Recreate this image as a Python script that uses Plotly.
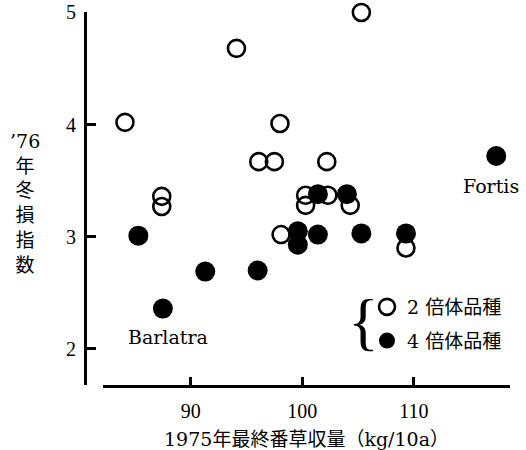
import plotly.graph_objects as go

# 2倍体品種 (open circles)
dip_x = [84.1, 87.4, 87.4, 94.1, 96.1, 97.5, 98.0, 98.1, 100.3, 100.3, 102.2, 102.3, 104.3, 105.3, 109.3]
dip_y = [4.02, 3.36, 3.27, 4.68, 3.67, 3.67, 4.01, 3.02, 3.37, 3.28, 3.67, 3.37, 3.28, 5.00, 2.90]

# 4倍体品種 (filled circles)
tet_x = [85.3, 87.5, 91.3, 96.0, 99.6, 99.6, 101.4, 101.4, 104.0, 105.3, 109.3, 117.4]
tet_y = [3.01, 2.36, 2.69, 2.70, 3.05, 2.93, 3.38, 3.02, 3.38, 3.03, 3.03, 3.72]

# labelled varieties: (name, index into tet arrays)
labels = [("Barlatra", 1, 5, -28), ("Fortis", 11, -5, -30)]

x_ticks = [90, 100, 110]
y_ticks = [2, 3, 4, 5]

SERIF = "DejaVu Serif, Noto Sans CJK JP"
TICKF = "Liberation Serif, Noto Sans CJK JP"

PH = 373  # plot height in px

fig = go.Figure()
fig.add_trace(go.Scatter(
    x=dip_x, y=dip_y, mode="markers", name="2 倍体品種", legendgroup="a",
    marker=dict(symbol="circle-open", size=17, color="black", line=dict(width=2.6, color="black")),
    cliponaxis=False,
))
fig.add_trace(go.Scatter(
    x=tet_x, y=tet_y, mode="markers", name="4 倍体品種", legendgroup="b",
    marker=dict(symbol="circle", size=20, color="black", line=dict(width=0)),
    cliponaxis=False,
))

annotations = []
for name, i, dx, dy in labels:
    annotations.append(dict(
        x=tet_x[i], y=tet_y[i], xref="x", yref="y", text=name, showarrow=False,
        xshift=dx, yshift=dy, font=dict(family=SERIF, size=19, color="black"),
    ))

# y-axis title (vertical stacked characters)
annotations.append(dict(
    x=-60 / 425, y=(385 - 203) / PH, xref="paper", yref="paper",
    text="’76<br>年<br>冬<br>損<br>指<br>数", showarrow=False,
    xanchor="center", yanchor="middle",
    font=dict(family=SERIF, size=19, color="black"),
))
# legend brace
annotations.append(dict(
    x=(363 - 85) / 425, y=(385 - 321) / PH, xref="paper", yref="paper",
    text="{", showarrow=False, xanchor="center", yanchor="middle",
    font=dict(family="Liberation Serif", size=64, color="black"),
))

fig.update_layout(
    width=526, height=450,
    margin=dict(l=85, r=16, t=12, b=65, autoexpand=False),
    plot_bgcolor="white", paper_bgcolor="white",
    showlegend=True,
    legend=dict(
        x=(367 - 85) / 425, y=(385 - 288) / PH, xanchor="left", yanchor="top",
        font=dict(family=SERIF, size=19, color="black"),
        bgcolor="rgba(0,0,0,0)", traceorder="grouped", tracegroupgap=6,
        itemsizing="trace",
    ),
    xaxis=dict(
        domain=[18 / 425, 1], range=[82.13, 118.63], automargin=False,
        tickvals=x_ticks, ticktext=[str(v) for v in x_ticks],
        ticks="inside", ticklen=8, tickwidth=3, tickcolor="black",
        showline=True, linewidth=2.5, linecolor="black",
        showgrid=False, zeroline=False,
        tickfont=dict(family=TICKF, size=20, color="black"),
        title=dict(text="1975年最終番草収量（kg/10a）", standoff=14,
                   font=dict(family=SERIF, size=19, color="black")),
        ticklabelstandoff=6,
    ),
    yaxis=dict(
        anchor="free", position=0, range=[1.679, 5.004], automargin=False,
        tickvals=y_ticks, ticktext=[str(v) for v in y_ticks],
        ticks="inside", ticklen=9, tickwidth=2.5, tickcolor="black",
        showline=True, linewidth=3, linecolor="black",
        showgrid=False, zeroline=False,
        tickfont=dict(family=TICKF, size=20, color="black"),
        ticklabelstandoff=4,
    ),
    annotations=annotations,
)

fig.write_html("out.html", config={"displayModeBar": False},
               post_script="document.body.style.margin='0';")
